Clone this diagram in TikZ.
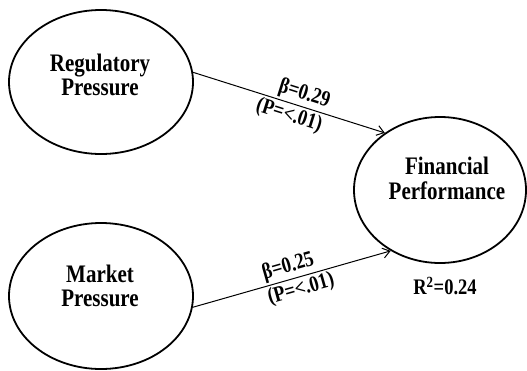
\documentclass[tikz,border=0pt]{standalone}
\usepackage{fontspec}
\setmainfont{Liberation Serif}
\usetikzlibrary{shapes.geometric,arrows.meta}
\newcommand{\tallstack}[1]{\scalebox{1}[1.2]{\renewcommand{\arraystretch}{1}\begin{tabular}{@{}c@{}}#1\end{tabular}}}
\newcommand{\talltext}[1]{\scalebox{1}[1.2]{#1}}
\tikzset{
  construct/.style={ellipse, draw, line width=1.8pt, inner sep=0pt},
  lbl/.style={align=center, font=\fontsize{21}{20}\selectfont\bfseries, inner sep=0pt},
  path/.style={line width=1pt, -{Straight Barb[length=7pt,width=10pt,line width=1pt]}},
  coef/.style={font=\fontsize{18.5}{20}\selectfont\bfseries, sloped, inner sep=2pt}
}
\begin{document}
\begin{tikzpicture}[x=1pt,y=-1pt]
\useasboundingbox (0,0) rectangle (527,370);
\node[construct, minimum width=184pt, minimum height=144pt] (RP) at (101,82) {};
\node[construct, minimum width=184pt, minimum height=146pt] (MP) at (101,296) {};
\node[construct, minimum width=172pt, minimum height=146pt] (FP) at (440,190) {};
\node[lbl] (RPt) at (100,78) {\tallstack{Regulatory\\Pressure}};
\node[lbl] (MPt) at (100,289) {\tallstack{Market\\Pressure}};
\node[lbl] (FPt) at (447,182) {\tallstack{Financial\\Performance}};
\node[font=\fontsize{18.5}{20}\selectfont\bfseries] (R2) at (445,286) {\talltext{R\textsuperscript{2}=0.24}};
\draw[path] (RP.6) -- node[coef, pos=0.56, above] {\talltext{β=0.29}} node[coef, pos=0.52, below] {\talltext{(P=<.01)}} (FP.134);
\draw[path] (MP.-7.5) -- node[coef, pos=0.5, above] {\talltext{β=0.25}} node[coef, pos=0.53, below] {\talltext{(P=<.01)}} (FP.231);
\end{tikzpicture}
\end{document}
